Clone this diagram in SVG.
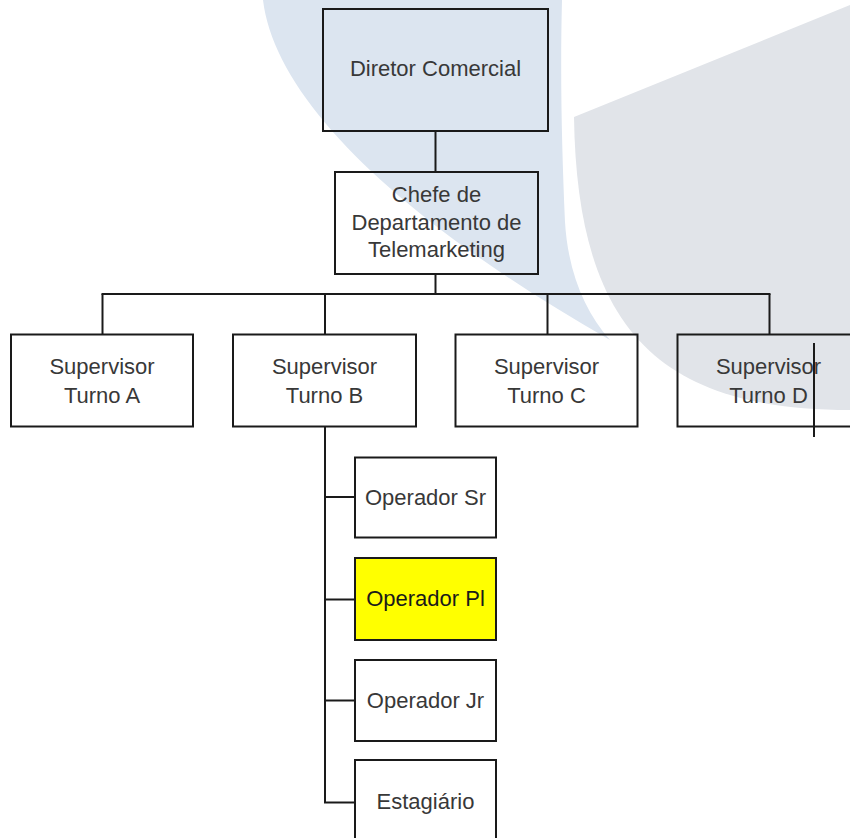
<svg xmlns="http://www.w3.org/2000/svg" width="850" height="838" viewBox="0 0 850 838">
<style>
.box{fill:none;stroke:#1a1a1a;stroke-width:2}
.yel{fill:#ffff00;stroke:#1a1a1a;stroke-width:2}
.ln{fill:none;stroke:#1a1a1a;stroke-width:2}
text{font-family:"Liberation Sans",Arial,sans-serif;font-size:22px;fill:#383838;text-anchor:middle}
.dark{fill:#1a1a1a}
</style>
<rect x="0" y="0" width="850" height="838" fill="#ffffff"/>
<g id="background">
<path d="M263,0 C275,100 400,220 610,340 C585,312 568,272 565,222 C562,150 560,80 562,0 Z" fill="#dce5f0"/>
<path d="M574,117 L850,5 L850,410 C660,410 577,330 574,117 Z" fill="#e1e4e9"/>
</g>
<g id="connectors">
<line class="ln" x1="435.5" y1="131" x2="435.5" y2="172"/>
<line class="ln" x1="435.5" y1="274" x2="435.5" y2="294"/>
<line class="ln" x1="101.5" y1="294" x2="770.5" y2="294"/>
<line class="ln" x1="102.5" y1="294" x2="102.5" y2="334.5"/>
<line class="ln" x1="325" y1="294" x2="325" y2="334.5"/>
<line class="ln" x1="547.5" y1="294" x2="547.5" y2="334.5"/>
<line class="ln" x1="769.5" y1="294" x2="769.5" y2="334.5"/>
<line class="ln" x1="325" y1="426.5" x2="325" y2="803"/>
<line class="ln" x1="324" y1="497" x2="355" y2="497"/>
<line class="ln" x1="324" y1="599.5" x2="355" y2="599.5"/>
<line class="ln" x1="324" y1="700.5" x2="355" y2="700.5"/>
<line class="ln" x1="324" y1="802.5" x2="355" y2="802.5"/>
<line class="ln" x1="814" y1="343" x2="814" y2="437"/>
</g>
<g id="diretor">
<rect class="box" x="323" y="9" width="225" height="122"/>
<text x="435.5" y="76">Diretor Comercial</text>
</g>
<g id="chefe">
<rect class="box" x="335" y="172" width="203" height="102"/>
<text x="436.5" y="202">Chefe de</text>
<text x="436.5" y="229.5">Departamento de</text>
<text x="436.5" y="257">Telemarketing</text>
</g>
<g id="supA">
<rect class="box" x="11" y="334.5" width="182" height="92"/>
<text x="102" y="374">Supervisor</text>
<text x="102" y="402.5">Turno A</text>
</g>
<g id="supB">
<rect class="box" x="233" y="334.5" width="183" height="92"/>
<text x="324.5" y="374">Supervisor</text>
<text x="324.5" y="402.5">Turno B</text>
</g>
<g id="supC">
<rect class="box" x="455.5" y="334.5" width="182" height="92"/>
<text x="546.5" y="374">Supervisor</text>
<text x="546.5" y="402.5">Turno C</text>
</g>
<g id="supD">
<rect class="box" x="677.5" y="334.5" width="183" height="92"/>
<text x="768.5" y="374">Supervisor</text>
<text x="768.5" y="402.5">Turno D</text>
</g>
<g id="opSr">
<rect class="box" x="355" y="457.5" width="141" height="80"/>
<text x="425.5" y="504.5">Operador Sr</text>
</g>
<g id="opPl">
<rect class="yel" x="355" y="558" width="141" height="82"/>
<text class="dark" x="425.5" y="606">Operador Pl</text>
</g>
<g id="opJr">
<rect class="box" x="355" y="660" width="141" height="81"/>
<text x="425.5" y="707.5">Operador Jr</text>
</g>
<g id="estagiario">
<rect class="box" x="355" y="760" width="141" height="100"/>
<text x="425.5" y="809">Estagiário</text>
</g>
</svg>
